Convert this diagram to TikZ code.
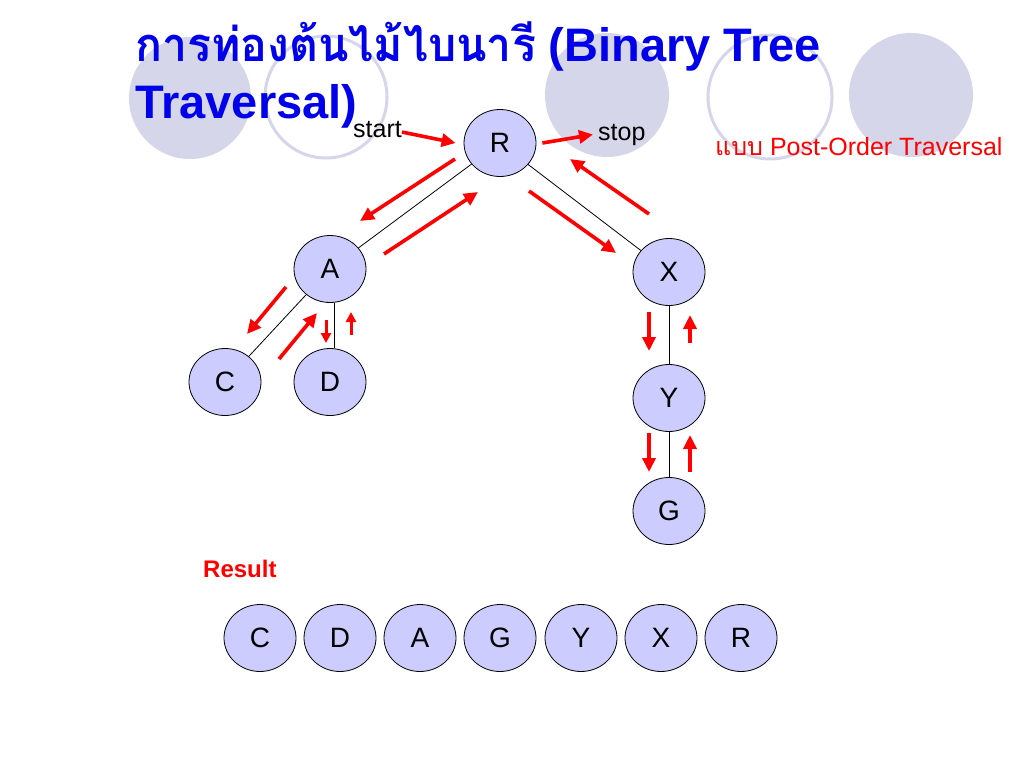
\documentclass[tikz,border=0pt]{standalone}
\usepackage{fontspec}
\setmainfont{Liberation Sans}
\newfontfamily\thaifont[Script=Thai]{Loma}
\newfontfamily\thaititle[Script=Thai,FakeStretch=0.95]{Loma}
\usetikzlibrary{arrows.meta,shapes.geometric}

\definecolor{titleblue}{RGB}{0,0,235}
\definecolor{nodefill}{RGB}{204,204,255}
\definecolor{bglilac}{RGB}{214,214,234}
\definecolor{trred}{RGB}{255,0,0}

\tikzset{
	treenode/.style={ellipse, draw=black, line width=0.8pt, fill=nodefill, minimum width=72pt, minimum height=67pt, inner sep=0pt, font=\fontsize{28}{28}\selectfont},
	treeedge/.style={line width=0.8pt},
	trav/.style={draw=trred, line width=3.6pt, -{Triangle[length=14pt,width=13pt]}},
	travshort/.style={draw=trred, line width=3pt, -{Triangle[length=10pt,width=10pt]}},
	bgdisc/.style={fill=bglilac},
	bgring/.style={draw=bglilac, line width=3pt},
}

\begin{document}
\begin{tikzpicture}[x=1pt, y=-1pt]
		%%%%% FRAME %%%%%
		\useasboundingbox[fill=white] (0,0) rectangle (1024,768);
		
		%%%%% BACKGROUND %%%%%
		\fill[bgdisc] (190,98) circle (61pt);
		\draw[bgring] (326,97) circle (61pt);
		\fill[bgdisc] (607,95) circle (62pt);
		\draw[bgring] (770,97) circle (62pt);
		\fill[bgdisc] (911,95) circle (62pt);
		
		%%%%% TITLE %%%%%
		\node[anchor=base west, inner sep=0pt, align=left, text=titleblue, font=\fontsize{47}{57}\selectfont\bfseries] (title) at (135,118) {{\thaititle การท่องต้นไม้ไบนารี} (Binary Tree\\Traversal)};
		\node[anchor=base west, inner sep=0pt, text=trred, font=\fontsize{25}{25}\selectfont] (mode) at (715,155) {{\thaifont แบบ} Post-Order Traversal};
		
		%%%%% TREE %%%%%
		\node[treenode] (R) at (500,143) {R};
		\node[treenode] (A) at (330,269) {A};
		\node[treenode] (X) at (669,272) {X};
		\node[treenode] (C) at (225,382) {C};
		\node[treenode] (D) at (330,382) {D};
		\node[treenode] (Y) at (669,398) {Y};
		\node[treenode] (G) at (669,511) {G};
		
		\draw[treeedge] (R) -- (A);
		\draw[treeedge] (R) -- (X);
		\draw[treeedge] (A) -- (C);
		\draw[treeedge] ([xshift=4pt]A.south) -- ([xshift=4pt]D.north);
		\draw[treeedge] (X) -- (Y);
		\draw[treeedge] (Y) -- (G);
		
		\node[anchor=base west, inner sep=0pt, font=\fontsize{25}{25}\selectfont] (start) at (353,137) {start};
		\node[anchor=base west, inner sep=0pt, font=\fontsize{25}{25}\selectfont] (stop) at (598,140) {stop};
		
		%%%%% TRAVERSAL %%%%%
		\draw[trav] ([yshift=-3pt]start.east) -- ([xshift=-8pt]R.west);
		\draw[trav] ([xshift=6pt]R.east) -- ([xshift=-5pt]stop.west);
		
		\draw[trav] (455,159) -- (360,221);
		\draw[trav] (384,254) -- (478,192);
		\draw[trav] (529,191) -- (616,253);
		\draw[trav] (649,214) -- (570,159);
		\draw[trav] (286,287) -- (247,334);
		\draw[trav] (279,359) -- (317,313);
		
		\draw[travshort] (326,320) -- (326,343);
		\draw[travshort] (351,335) -- (351,312);
		
		\draw[trav] (649,312) -- (649,351);
		\draw[trav] (690,343) -- (690,315);
		\draw[trav] (649,433) -- (649,472);
		\draw[trav] (690,472) -- (690,435);
		
		%%%%% RESULT %%%%%
		\node[anchor=base west, inner sep=0pt, text=trred, font=\fontsize{24}{24}\selectfont\bfseries] (result) at (203,577) {Result};
		
		\node[treenode] (resC) at (260,638) {C};
		\node[treenode] (resD) at (340,638) {D};
		\node[treenode] (resA) at (420,638) {A};
		\node[treenode] (resG) at (500,638) {G};
		\node[treenode] (resY) at (581,638) {Y};
		\node[treenode] (resX) at (661,638) {X};
		\node[treenode] (resR) at (741,638) {R};
		
\end{tikzpicture}
\end{document}
